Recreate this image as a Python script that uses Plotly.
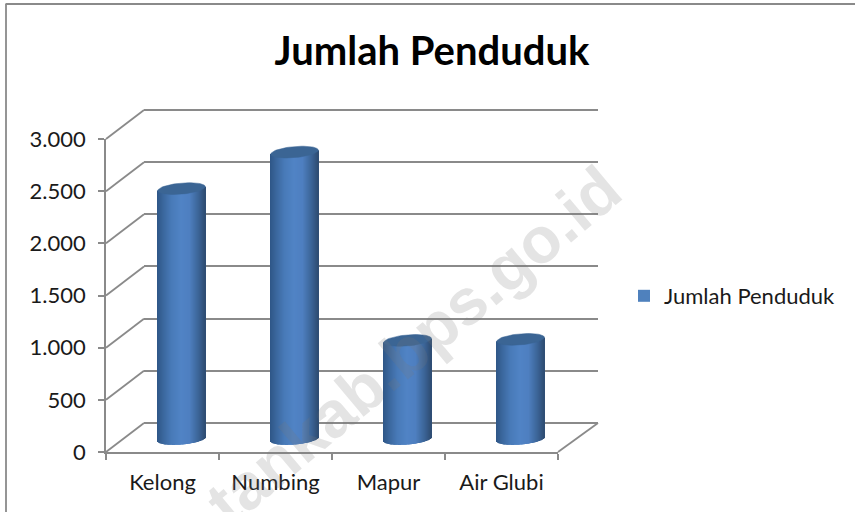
import numpy as np
import plotly.graph_objects as go

categories = ["Kelong", "Numbing", "Mapur", "Air Glubi"]
values = [2400, 2750, 945, 955]
y_ticks = [0, 500, 1000, 1500, 2000, 2500, 3000]
series_name = "Jumlah Penduduk"
watermark = "tankab.bps.go.id"

W, H = 855, 512
GREY = "#8a8a8a"
FONT = "Lato"
TEXT = "#1a1a1a"


def px(a, b):
    return [a / W, b / W]


def py(top, bottom):
    return [(H - bottom) / H, (H - top) / H]


HALF = 0.21          # half cylinder width, category units
RY = 53              # half ellipse height, value units
TILT = 19            # rise of the ellipse at its right end, value units
N = 48
PAD = 100            # value units added to both ends of the hidden axes
PAD_PX = PAD * 313 / 3000


def shade(t):
    stops_t = [-1, -0.75, -0.4, 0.0, 0.35, 0.75, 1]
    r = np.interp(t, stops_t, [46, 58, 72, 80, 78, 58, 46])
    g = np.interp(t, stops_t, [86, 102, 122, 131, 127, 98, 76])
    b = np.interp(t, stops_t, [134, 156, 184, 197, 192, 148, 114])
    return f"rgb({r:.0f},{g:.0f},{b:.0f})"


fig = go.Figure()

fig.add_trace(go.Scatter(x=categories, y=values, mode="none", showlegend=False,
                         hoverinfo="skip", xaxis="x", yaxis="y"))
fig.add_trace(go.Scatter(x=[0], y=[0], mode="none", showlegend=False,
                         hoverinfo="skip", xaxis="x2", yaxis="y2"))
fig.add_trace(go.Bar(x=list(range(len(categories))), y=values, width=0.3,
                     name=series_name, marker=dict(color="#4F81BD", line_width=0),
                     xaxis="x3", yaxis="y3"))

ts = (np.arange(N) + 0.5) / N * 2 - 1
xs, bases, heights, cols = [], [], [], []
for i, v in enumerate(values):
    for t in ts:
        bottom = TILT * t - RY * np.sqrt(1 - t * t)
        top = v + TILT * t
        xs.append(i + t * HALF)
        bases.append(bottom)
        heights.append(top - bottom)
        cols.append(shade(t))
fig.add_trace(go.Bar(x=xs, y=heights, base=bases, width=2 * HALF / N * 1.2,
                     marker=dict(color=cols, line_width=0), showlegend=False,
                     hoverinfo="skip", xaxis="x3", yaxis="y3"))

theta = np.linspace(0, 2 * np.pi, 60)
for i, v in enumerate(values):
    fig.add_trace(go.Scatter(x=i + HALF * np.cos(theta),
                             y=v + TILT * np.cos(theta) + RY * np.sin(theta),
                             mode="lines", fill="toself", fillcolor="#3B6594",
                             line=dict(color="#3B6594", width=0.5), showlegend=False,
                             hoverinfo="skip", xaxis="x3", yaxis="y3"))

FX0, FX1, FTOP, FBOT = 106, 558, 139, 452
BX0, BX1, BTOP, BBOT = 144, 598, 110, 423
MTOP, MBOT = 126, 439
shapes = []


def seg(x0, y0, x1, y1):
    shapes.append(dict(type="line", xref="paper", yref="paper", layer="below",
                       x0=x0 / W, x1=x1 / W, y0=(H - y0) / H, y1=(H - y1) / H,
                       line=dict(color=GREY, width=1.8)))


for tv in y_ticks:
    f = tv / max(y_ticks)
    seg(FX0, FBOT + (FTOP - FBOT) * f, BX0, BBOT + (BTOP - BBOT) * f)
seg(FX1, FBOT, BX1, BBOT)
seg(5.5, 4, W, 4)
seg(6, 4, 6, H)

fig.update_layout(
    width=W, height=H, autosize=False,
    margin=dict(l=0, r=0, t=0, b=0, pad=0, autoexpand=False),
    paper_bgcolor="white", plot_bgcolor="rgba(0,0,0,0)",
    separators=",.", barmode="overlay", shapes=shapes,
    font=dict(family=FONT, color=TEXT, size=22),
    xaxis=dict(domain=px(FX0, FX1), type="category", categoryorder="array",
               categoryarray=categories, range=[-0.5, 3.5], tickson="boundaries",
               ticks="outside", ticklen=6, tickwidth=1.8, tickcolor=GREY,
               showline=True, linecolor=GREY, linewidth=1.8, showgrid=False,
               ticklabelstandoff=10, tickfont=dict(size=22), anchor="y"),
    yaxis=dict(domain=py(FTOP, FBOT), range=[0, 3000], tickvals=y_ticks,
               tickformat=",d", ticks="outside", ticklen=6, tickwidth=1.8, tickcolor=GREY,
               showline=True, linecolor=GREY, linewidth=1.8, showgrid=False, zeroline=False,
               ticklabelstandoff=8, tickfont=dict(size=22), anchor="x"),
    xaxis2=dict(domain=px(BX0, BX1), range=[0, 1], visible=False, anchor="y2"),
    yaxis2=dict(domain=py(BTOP - PAD_PX, BBOT + PAD_PX), range=[-PAD, 3000 + PAD],
                tickvals=y_ticks, showgrid=True,
                gridcolor=GREY, gridwidth=1.8, zeroline=False, showline=False,
                showticklabels=False, ticks="", anchor="x2"),
    xaxis3=dict(domain=px(125, 577), range=[-0.5, 3.5], visible=False, anchor="y3"),
    yaxis3=dict(domain=py(MTOP - PAD_PX, MBOT + PAD_PX), range=[-PAD, 3000 + PAD],
                visible=False, anchor="x3"),
    legend=dict(x=624 / W, y=(H - 296) / H, xanchor="left", yanchor="middle",
                font=dict(size=22, family=FONT), bgcolor="rgba(0,0,0,0)",
                itemwidth=30, traceorder="normal"),
    title=dict(text=f"<b>{series_name}</b>", x=432 / W, xanchor="center",
               y=(H - 51) / H, yanchor="middle",
               font=dict(size=40, family=FONT, color="#000000")),
    annotations=[dict(text=f"<b>{watermark}</b>", xref="x3", yref="y3",
                      x=2.05, y=900, showarrow=False, textangle=-40,
                      font=dict(family="Liberation Sans", size=65,
                                color="rgba(120,120,120,0.2)"))],
)

fig.write_html("out.html", config=dict(displayModeBar=False),
               post_script="document.body.style.margin='0';")
